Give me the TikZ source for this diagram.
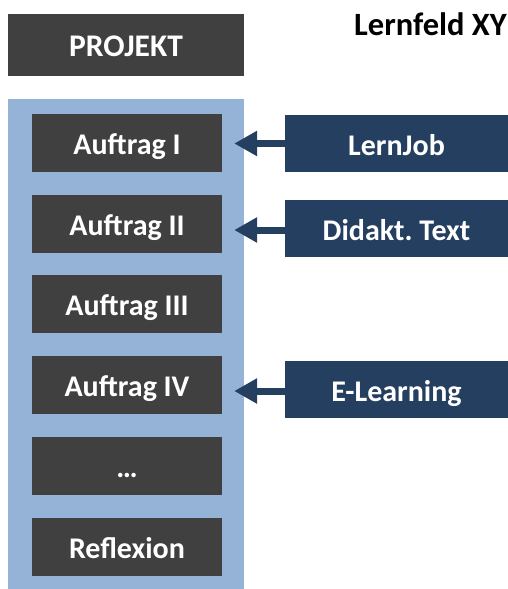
\documentclass[tikz,border=0pt]{standalone}
\usepackage{fontspec}
\setmainfont{Carlito}
\usetikzlibrary{arrows.meta}

\definecolor{boxgray}{HTML}{404040}
\definecolor{frameblue}{HTML}{95B3D7}
\definecolor{navy}{HTML}{243F60}

\frenchspacing

\begin{document}
\begin{tikzpicture}[
    x=1pt, y=-1pt,
    every node/.style={font=\bfseries\fontsize{30}{36}\selectfont},
    task/.style={fill=boxgray, text=white, minimum width=190pt, minimum height=58pt, inner sep=0pt,
                 text height=23pt, text depth=0pt},
    media/.style={task, fill=navy, minimum width=223pt, minimum height=57pt},
    feed/.style={navy, line width=7pt, -{Triangle[length=23pt,width=24pt]}, shorten >=12pt}
]
    \useasboundingbox (0,0) rectangle (508,589);

    \node[task, minimum width=236pt, minimum height=62pt, font=\bfseries\fontsize{31.5}{36}\selectfont] (projekt) at (126,45) {PROJEKT};
    \node[text=black, inner sep=0pt, text height=20.5pt, text depth=0pt,
          font=\bfseries\fontsize{32.5}{38}\selectfont] (title) at (430.5,25) {Lernfeld XY};

    \node[fill=frameblue, minimum width=236pt, minimum height=490pt, inner sep=0pt] (frame) at (126,344) {};

    \node[task] (a1) at (127,143)   {Auftrag I};
    \node[task] (a2) at (127,223.7) {Auftrag II};
    \node[task] (a3) at (127,304.4) {Auftrag III};
    \node[task] (a4) at (127,385.1) {Auftrag IV};
    \node[task] (a5) at (127,465.8) {\dots};
    \node[task] (a6) at (127,546.5) {Reflexion};

    \node[media] (lernjob) at (396.5,143.5) {LernJob};
    \node[media] (text)    at (396.5,228.5) {Didakt. Text};
    \node[media] (elearn)  at (396.5,389.5) {E-Learning};

    \draw[feed] (lernjob.west) -- (lernjob.west -| a1.east);
    \draw[feed] ([yshift=-1.5pt]text.west) -- ([yshift=-1.5pt]text.west -| a2.east);
    \draw[feed] ([yshift=-1.5pt]elearn.west) -- ([yshift=-1.5pt]elearn.west -| a4.east);
\end{tikzpicture}
\end{document}
